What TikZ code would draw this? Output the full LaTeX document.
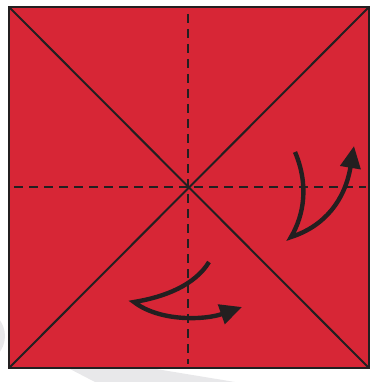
\documentclass[tikz,border=0pt]{standalone}
\usetikzlibrary{arrows.meta}
\definecolor{paper}{RGB}{215,38,54}
\definecolor{ink}{RGB}{35,31,32}
\definecolor{wm}{RGB}{232,232,234}
\tikzset{
  edge/.style={draw=ink, line width=2pt},
  crease/.style={draw=ink, line width=2pt, dash pattern=on 9pt off 6pt},
  foldarrow/.style={draw=ink, line width=4.4pt, line join=miter, miter limit=20,
    -{Triangle[length=22pt,width=20pt]}},
}
\begin{document}
\begin{tikzpicture}[x=1pt,y=-1pt]
\useasboundingbox (0,0) rectangle (374,382);
\clip (0,0) rectangle (374,382);
% faint watermark
\fill[wm] (68,368) -- (150,368) -- (235,382) -- (95,382) -- cycle;
\fill[wm] (-22,336) circle (27);
% paper
\coordinate (tl) at (9,7);
\coordinate (tr) at (369,7);
\coordinate (br) at (369,368);
\coordinate (bl) at (9,368);
\fill[paper] (tl) rectangle (br);
\draw[edge] (tl) -- (br);
\draw[edge] (tr) -- (bl);
\draw[crease] (188,14) -- (188,364);
\draw[crease] (14,187) -- (366,187);
\draw[draw=ink, line width=2.6pt] (tl) rectangle (br);
% arrows
\coordinate (a1s) at (295,152);
\coordinate (a1p) at (291,237);
\coordinate (a1e) at (354,146);
\draw[foldarrow] (a1s) .. controls (309,185) and (304,215) .. (a1p)
  .. controls (325,226) and (345,200) .. (a1e);
\coordinate (a2s) at (209,262);
\coordinate (a2p) at (134,302);
\coordinate (a2e) at (242,307);
\draw[foldarrow] (a2s) .. controls (195,285) and (165,297) .. (a2p)
  .. controls (160,322) and (205,320) .. (a2e);
\end{tikzpicture}
\end{document}
